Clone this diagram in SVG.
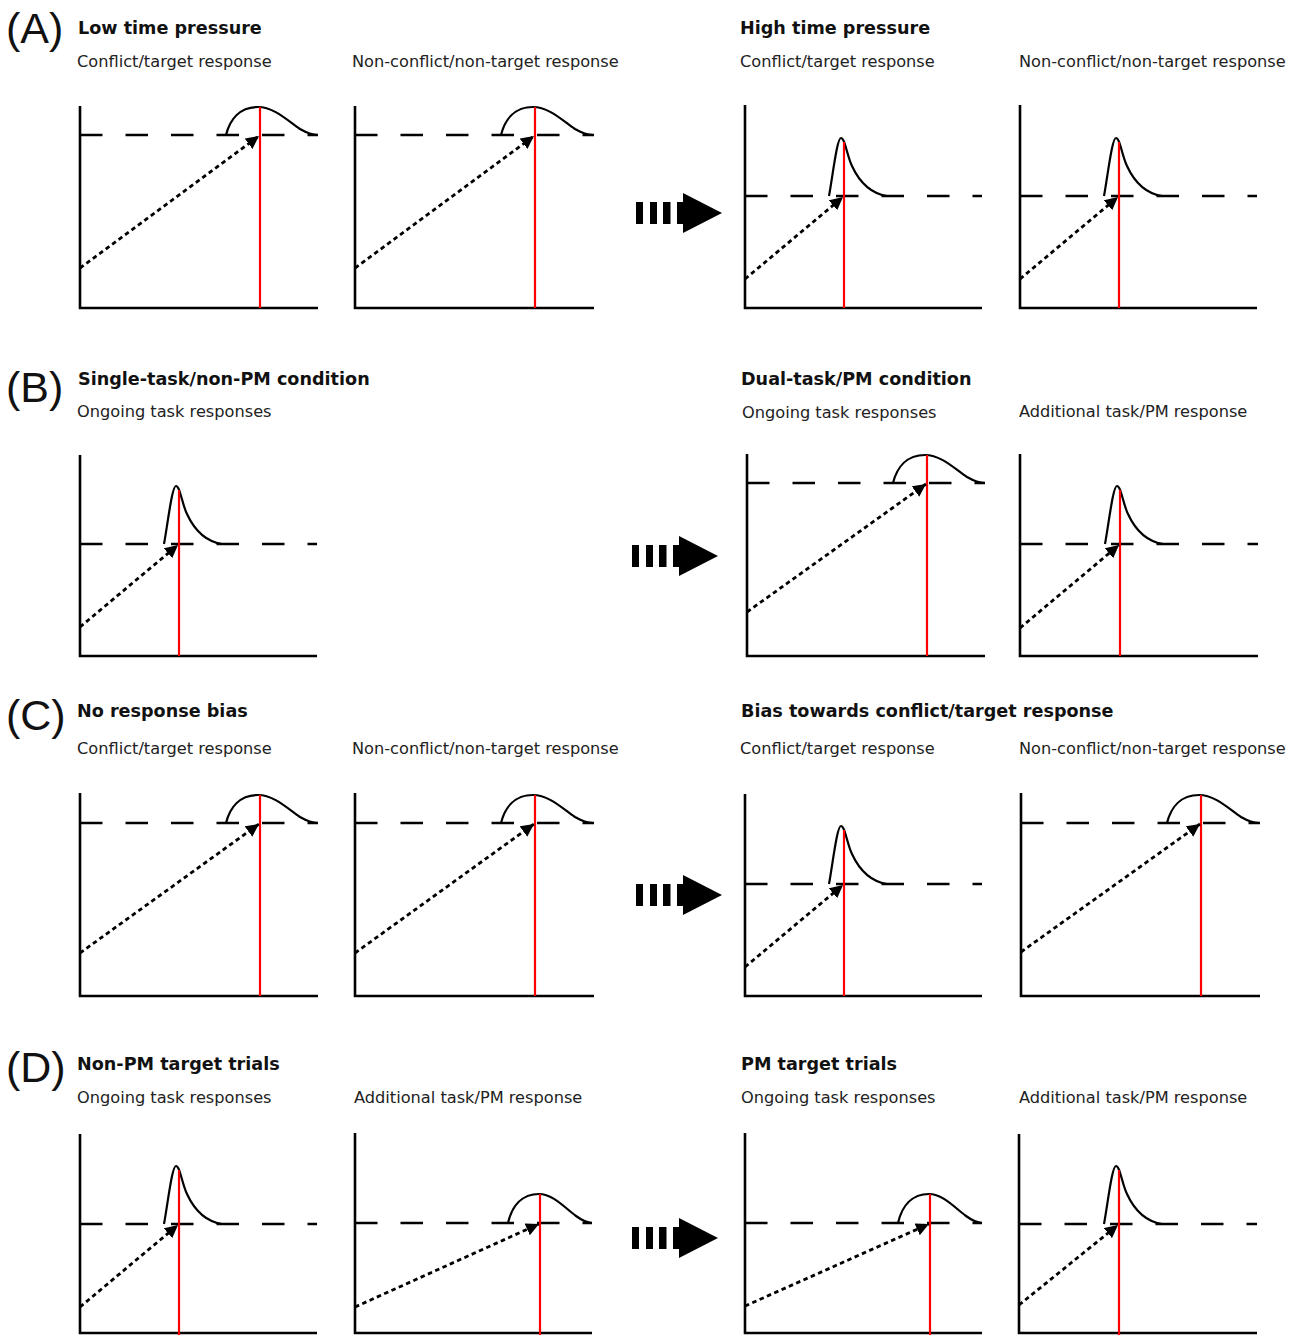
<svg xmlns="http://www.w3.org/2000/svg" xmlns:xlink="http://www.w3.org/1999/xlink" width="1295" height="1335" viewBox="0 0 1295 1335">
<style>
.lab{font-family:"Liberation Sans",Arial,sans-serif;font-size:43px;fill:#111}
.ttl{font-family:"DejaVu Sans",Verdana,sans-serif;font-weight:bold;font-size:17.6px;fill:#111}
.sub{font-family:"DejaVu Sans",Verdana,sans-serif;font-size:16.2px;fill:#222}
.ax{fill:none;stroke:#000;stroke-width:2.6}
.th{stroke:#000;stroke-width:2.6;stroke-dasharray:22.5 23}
.cv{fill:none;stroke:#000;stroke-width:2.2}
.rt{stroke:#f00;stroke-width:2.2}
.ev{stroke:#000;stroke-width:2.8;stroke-dasharray:4.5 3.5;marker-end:url(#ah)}
</style>
<defs>
<marker id="ah" viewBox="0 0 10 10" refX="10" refY="5" markerWidth="13" markerHeight="13" markerUnits="userSpaceOnUse" orient="auto"><path d="M0,0 L10,5 L0,10 z" fill="#000"/></marker>
<path id="wide" class="cv" d="M-34,0 C-30,-16 -20,-28 -2,-28 C14,-28 28,-14 40,-6 C47,-2 52,0 58,0"/>
<path id="wide2" class="cv" d="M-32,0 C-28,-17 -18,-29 -1,-29 C13,-29 25,-15 36,-7 C43,-2 47,0 52,0"/>
<path id="sharp" class="cv" d="M-15,0 C-11,-22 -7,-58 -3,-58 C1,-58 3,-40 8,-30 C14,-17 24,-3 43,0"/>
<g id="bigarrow"><rect x="0" y="-11" width="7" height="22"/><rect x="14" y="-11" width="7" height="22"/><rect x="27" y="-11" width="7.5" height="22"/><rect x="41" y="-11" width="8" height="22"/><polygon points="47,-20 86,0 47,20"/></g>
</defs>
<rect width="1295" height="1335" fill="#fff"/>

<g id="labels">
<text class="lab" x="6" y="43">(A)</text>
<text class="ttl" x="78" y="34">Low time pressure</text>
<text class="sub" x="77" y="67">Conflict/target response</text>
<text class="sub" x="352" y="67">Non-conflict/non-target response</text>
<text class="ttl" x="740" y="34">High time pressure</text>
<text class="sub" x="740" y="67">Conflict/target response</text>
<text class="sub" x="1019" y="67">Non-conflict/non-target response</text>

<text class="lab" x="6" y="402">(B)</text>
<text class="ttl" x="78" y="385">Single-task/non-PM condition</text>
<text class="sub" x="77" y="417">Ongoing task responses</text>
<text class="ttl" x="741" y="385">Dual-task/PM condition</text>
<text class="sub" x="742" y="418">Ongoing task responses</text>
<text class="sub" x="1019" y="417">Additional task/PM response</text>

<text class="lab" x="6" y="730">(C)</text>
<text class="ttl" x="77" y="717">No response bias</text>
<text class="sub" x="77" y="754">Conflict/target response</text>
<text class="sub" x="352" y="754">Non-conflict/non-target response</text>
<text class="ttl" x="741" y="717">Bias towards conflict/target response</text>
<text class="sub" x="740" y="754">Conflict/target response</text>
<text class="sub" x="1019" y="754">Non-conflict/non-target response</text>

<text class="lab" x="6" y="1082">(D)</text>
<text class="ttl" x="77" y="1070">Non-PM target trials</text>
<text class="sub" x="77" y="1103">Ongoing task responses</text>
<text class="sub" x="354" y="1103">Additional task/PM response</text>
<text class="ttl" x="741" y="1070">PM target trials</text>
<text class="sub" x="741" y="1103">Ongoing task responses</text>
<text class="sub" x="1019" y="1103">Additional task/PM response</text>
</g>

<g id="chartA1"><path class="ax" d="M80,106V308H318"/><line class="th" x1="80" y1="135" x2="318" y2="135"/><use href="#wide" x="260" y="135"/><line class="rt" x1="260" y1="107" x2="260" y2="308"/><line class="ev" x1="80" y1="268" x2="259" y2="136"/></g>
<g id="chartA2"><path class="ax" d="M355,106V308H594"/><line class="th" x1="355" y1="135" x2="594" y2="135"/><use href="#wide" x="535" y="135"/><line class="rt" x1="535" y1="107" x2="535" y2="308"/><line class="ev" x1="355" y1="268" x2="534" y2="136"/></g>
<g id="chartA3"><path class="ax" d="M745,105V308H982"/><line class="th" x1="745" y1="196" x2="982" y2="196"/><use href="#sharp" x="844" y="196"/><line class="rt" x1="844" y1="142" x2="844" y2="308"/><line class="ev" x1="745" y1="279" x2="843" y2="197"/></g>
<g id="chartA4"><path class="ax" d="M1020,105V308H1257"/><line class="th" x1="1020" y1="196" x2="1257" y2="196"/><use href="#sharp" x="1119" y="196"/><line class="rt" x1="1119" y1="142" x2="1119" y2="308"/><line class="ev" x1="1020" y1="279" x2="1118" y2="197"/></g>

<g id="chartB1"><path class="ax" d="M80,455V656H317"/><line class="th" x1="80" y1="544" x2="317" y2="544"/><use href="#sharp" x="179" y="544"/><line class="rt" x1="179" y1="490" x2="179" y2="656"/><line class="ev" x1="80" y1="627" x2="178" y2="545"/></g>
<g id="chartB3"><path class="ax" d="M747,454V656H985"/><line class="th" x1="747" y1="483" x2="985" y2="483"/><use href="#wide" x="927" y="483"/><line class="rt" x1="927" y1="455" x2="927" y2="656"/><line class="ev" x1="747" y1="612" x2="926" y2="484"/></g>
<g id="chartB4"><path class="ax" d="M1020,454V656H1258"/><line class="th" x1="1020" y1="544" x2="1258" y2="544"/><use href="#sharp" x="1120" y="544"/><line class="rt" x1="1120" y1="490" x2="1120" y2="656"/><line class="ev" x1="1020" y1="628" x2="1119" y2="545"/></g>

<g id="chartC1"><path class="ax" d="M80,793V996H318"/><line class="th" x1="80" y1="823" x2="318" y2="823"/><use href="#wide" x="260" y="823"/><line class="rt" x1="260" y1="795" x2="260" y2="996"/><line class="ev" x1="80" y1="953" x2="259" y2="824"/></g>
<g id="chartC2"><path class="ax" d="M355,793V996H594"/><line class="th" x1="355" y1="823" x2="594" y2="823"/><use href="#wide" x="535" y="823"/><line class="rt" x1="535" y1="795" x2="535" y2="996"/><line class="ev" x1="355" y1="953" x2="534" y2="824"/></g>
<g id="chartC3"><path class="ax" d="M745,794V996H982"/><line class="th" x1="745" y1="884" x2="982" y2="884"/><use href="#sharp" x="844" y="884"/><line class="rt" x1="844" y1="830" x2="844" y2="996"/><line class="ev" x1="745" y1="967" x2="843" y2="885"/></g>
<g id="chartC4"><path class="ax" d="M1021,793V996H1260"/><line class="th" x1="1021" y1="823" x2="1260" y2="823"/><use href="#wide" x="1201" y="823"/><line class="rt" x1="1201" y1="795" x2="1201" y2="996"/><line class="ev" x1="1021" y1="952" x2="1200" y2="824"/></g>

<g id="chartD1"><path class="ax" d="M80,1134V1333H317"/><line class="th" x1="80" y1="1224" x2="317" y2="1224"/><use href="#sharp" x="179" y="1224"/><line class="rt" x1="179" y1="1170" x2="179" y2="1335"/><line class="ev" x1="80" y1="1307" x2="178" y2="1225"/></g>
<g id="chartD2"><path class="ax" d="M355,1133V1333H592"/><line class="th" x1="355" y1="1223" x2="592" y2="1223"/><use href="#wide2" x="540" y="1223"/><line class="rt" x1="540" y1="1194" x2="540" y2="1335"/><line class="ev" x1="355" y1="1307" x2="539" y2="1224"/></g>
<g id="chartD3"><path class="ax" d="M745,1133V1333H982"/><line class="th" x1="745" y1="1223" x2="982" y2="1223"/><use href="#wide2" x="930" y="1223"/><line class="rt" x1="930" y1="1194" x2="930" y2="1335"/><line class="ev" x1="745" y1="1306" x2="929" y2="1224"/></g>
<g id="chartD4"><path class="ax" d="M1019,1134V1333H1257"/><line class="th" x1="1019" y1="1224" x2="1257" y2="1224"/><use href="#sharp" x="1119" y="1224"/><line class="rt" x1="1119" y1="1170" x2="1119" y2="1335"/><line class="ev" x1="1019" y1="1305" x2="1118" y2="1225"/></g>

<g id="connectors">
<use href="#bigarrow" x="636" y="213"/>
<use href="#bigarrow" x="632" y="556"/>
<use href="#bigarrow" x="636" y="895"/>
<use href="#bigarrow" x="632" y="1238"/>
</g>
</svg>
